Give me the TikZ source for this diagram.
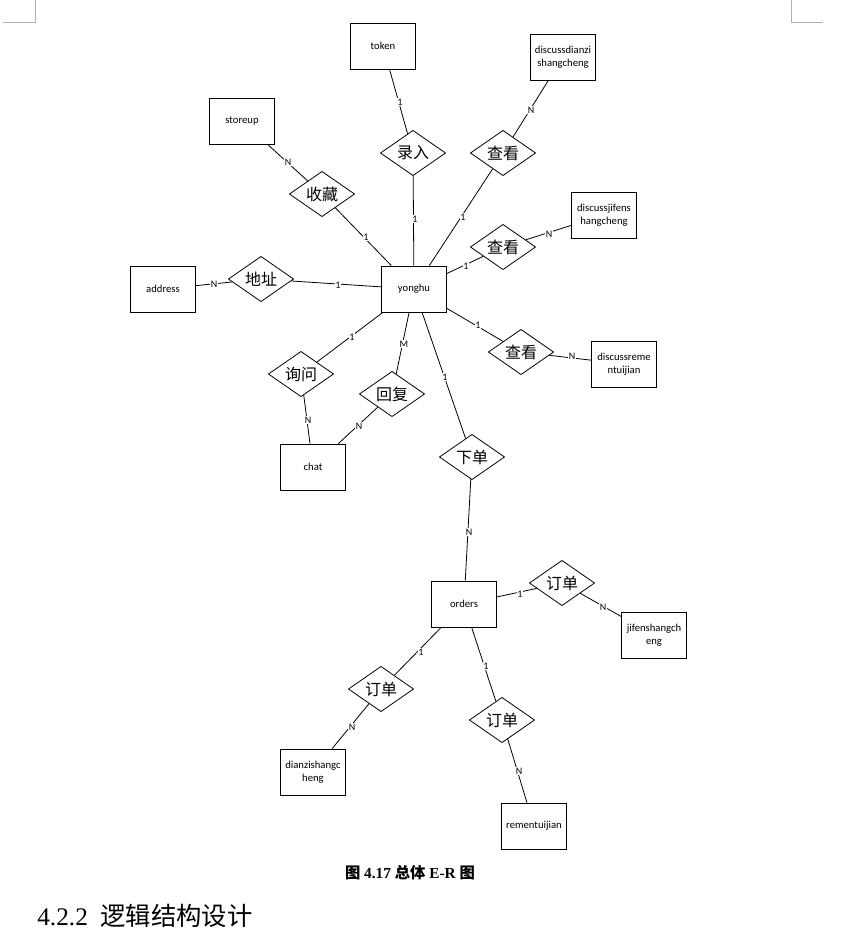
\documentclass[tikz,border=0pt]{standalone}
\usepackage{fontspec}
\setmainfont{Liberation Serif}
\newfontfamily\cjk{Noto Sans CJK SC}
\newfontfamily\ent{Carlito}
\usetikzlibrary{shapes.geometric}
\begin{document}
\begin{tikzpicture}[x=0.75pt,y=-0.75pt,
 ent/.style={draw,line width=0.6pt,minimum width=48.5pt,minimum height=34.5pt,inner sep=1pt,align=center,font=\ent\fontsize{8}{9.5}\selectfont},
 rel/.style={draw,diamond,aspect=1.45,line width=0.6pt,minimum width=49pt,minimum height=34pt,inner sep=0pt,font=\cjk\fontsize{12}{12}\selectfont},
 lb/.style={fill=white,inner sep=0.6pt,font=\ent\fontsize{7.5}{8}\selectfont},
 ln/.style={line width=0.6pt}]
\useasboundingbox (0,0) rectangle (863,933);
\draw[gray!60,line width=0.6pt] (35,0) -- (35,22) -- (3,22);
\draw[gray!60,line width=0.6pt] (791,0) -- (791,22) -- (823,22);
% entities
\node[ent] (token) at (383,46) {token};
\node[ent] (dd) at (563,57) {discussdianzi\\shangcheng};
\node[ent] (storeup) at (242,121) {storeup};
\node[ent] (dj) at (604,215) {discussjifens\\hangcheng};
\node[ent] (address) at (163,289) {address};
\node[ent] (yonghu) at (414,289) {yonghu};
\node[ent] (dr) at (624,364) {discussreme\\ntuijian};
\node[ent] (chat) at (313,467) {chat};
\node[ent] (orders) at (464,604) {orders};
\node[ent] (jf) at (654,635) {jifenshangch\\eng};
\node[ent] (dz) at (313,772) {dianzishangc\\heng};
\node[ent] (rm) at (534,826) {rementuijian};
% relations
\node[rel] (luru) at (413,153) {录入};
\node[rel] (ck1) at (503,153) {查看};
\node[rel] (sc) at (322,194) {收藏};
\node[rel] (ck2) at (503,247) {查看};
\node[rel] (dzh) at (261,279) {地址};
\node[rel] (ck3) at (521,352) {查看};
\node[rel] (xw) at (301,374) {询问};
\node[rel] (hf) at (392,394) {回复};
\node[rel] (xd) at (472,457) {下单};
\node[rel] (dd1) at (562,583) {订单};
\node[rel] (dd2) at (381,689) {订单};
\node[rel] (dd3) at (502,720) {订单};
% connectors
\draw[ln] (yonghu) -- (luru); \draw[ln] (luru) -- (token);
\draw[ln] (yonghu) -- (ck1); \draw[ln] (ck1) -- (dd);
\draw[ln] (yonghu) -- (sc); \draw[ln] (sc) -- (storeup);
\draw[ln] (yonghu) -- (ck2); \draw[ln] (ck2) -- (dj);
\draw[ln] (yonghu) -- (dzh); \draw[ln] (dzh) -- (address);
\draw[ln] (yonghu) -- (ck3); \draw[ln] (ck3) -- (dr);
\draw[ln] (yonghu) -- (xw); \draw[ln] (xw) -- (chat);
\draw[ln] (yonghu) -- (hf); \draw[ln] (hf) -- (chat);
\draw[ln] (yonghu) -- (xd); \draw[ln] (xd) -- (orders);
\draw[ln] (orders) -- (dd1); \draw[ln] (dd1) -- (jf);
\draw[ln] (orders) -- (dd2); \draw[ln] (dd2) -- (dz);
\draw[ln] (orders) -- (dd3); \draw[ln] (dd3) -- (rm);
% labels
\node[lb] (l1) at (415,219) {1};
\node[lb] (l2) at (400,102) {1};
\node[lb] (l3) at (463,217) {1};
\node[lb] (l4) at (531,110) {N};
\node[lb] (l5) at (366,237) {1};
\node[lb] (l6) at (288,162) {N};
\node[lb] (l7) at (466,266) {1};
\node[lb] (l8) at (549,234) {N};
\node[lb] (l9) at (338,285) {1};
\node[lb] (l10) at (214,284) {N};
\node[lb] (l11) at (478,325) {1};
\node[lb] (l12) at (572,356) {N};
\node[lb] (l13) at (352,337) {1};
\node[lb] (l14) at (308,420) {N};
\node[lb] (l15) at (404,344) {M};
\node[lb] (l16) at (359,426) {N};
\node[lb] (l17) at (445,377) {1};
\node[lb] (l18) at (469,532) {N};
\node[lb] (l19) at (520,594) {1};
\node[lb] (l20) at (603,607) {N};
\node[lb] (l21) at (421,652) {1};
\node[lb] (l22) at (352,727) {N};
\node[lb] (l23) at (486,666) {1};
\node[lb] (l24) at (519,771) {N};
% caption
\node[font=\bfseries\fontsize{11.5}{12}\selectfont] (cap) at (410,873) {{\cjk\bfseries 图} 4.17 {\cjk\bfseries 总体} E-R {\cjk\bfseries 图}};
\node[anchor=west,inner sep=0pt,font=\fontsize{19}{20}\selectfont] (h) at (37,916) {4.2.2\ \ {\cjk 逻辑结构设计}};
\end{tikzpicture}
\end{document}
